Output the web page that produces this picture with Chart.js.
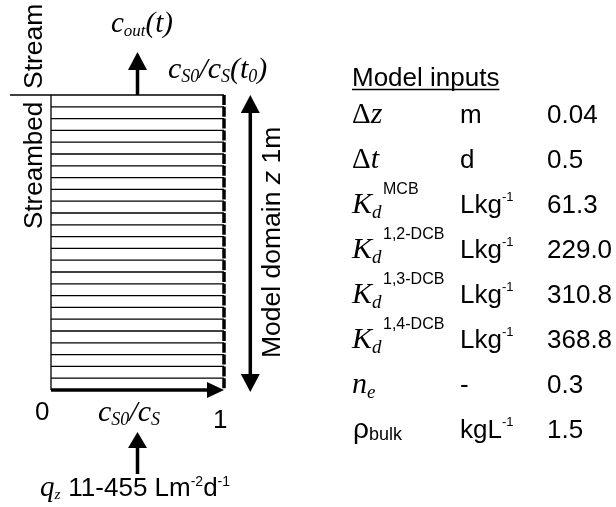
<!DOCTYPE html>
<html>
<head>
<meta charset="utf-8">
<script src="https://cdn.jsdelivr.net/npm/chart.js@4.4.1/dist/chart.umd.min.js"></script>
<style>
  html, body { margin: 0; padding: 0; background: #fff; }
  #wrap { width: 616px; height: 507px; position: relative; }
</style>
</head>
<body>
<div id="wrap"><canvas id="c"></canvas></div>
<script>
// layer boundaries of the model domain (depth z in m, dz = 0.04)
const layerDepths = [0.04, 0.08, 0.12, 0.16, 0.20, 0.24, 0.28, 0.32, 0.36, 0.40,
  0.44, 0.48, 0.52, 0.56, 0.60, 0.64, 0.68, 0.72, 0.76, 0.80, 0.84, 0.88, 0.92, 0.96];
// initial profile cS0/cS(t0) over depth
const initDepths = [0, 1];
const initRatio = [1, 1];

// model input table
const paramNames = ['Δ', 'Δ', 'K', 'K', 'K', 'K', 'n', 'ρ'];
const paramVars = ['z', 't', '', '', '', '', '', ''];
const paramSubs = ['', '', 'd', 'd', 'd', 'd', 'e', 'bulk'];
const paramSups = ['', '', 'MCB', '1,2-DCB', '1,3-DCB', '1,4-DCB', '', ''];
const paramUnits = ['m', 'd', 'Lkg', 'Lkg', 'Lkg', 'Lkg', '-', 'kgL'];
const paramUnitSups = ['', '', '-1', '-1', '-1', '-1', '', '-1'];
const paramValues = ['0.04', '0.5', '61.3', '229.0', '310.8', '368.8', '0.3', '1.5'];

const SANS = '"Liberation Sans", Arial, sans-serif';
const SERIF = '"Liberation Serif", "Times New Roman", serif';

function seg(ctx, x, y, parts) {
  // parts: [text, font, dy, extra gap]
  parts.forEach(p => {
    ctx.font = p[1];
    ctx.fillText(p[0], x, y + (p[2] || 0));
    x += ctx.measureText(p[0]).width + (p[3] || 0);
  });
  return x;
}

function arrowHead(ctx, x, y, dir, len, half) {
  ctx.beginPath();
  if (dir === 'up') { ctx.moveTo(x, y); ctx.lineTo(x - half, y + len); ctx.lineTo(x + half, y + len); }
  if (dir === 'down') { ctx.moveTo(x, y); ctx.lineTo(x - half, y - len); ctx.lineTo(x + half, y - len); }
  if (dir === 'right') { ctx.moveTo(x, y); ctx.lineTo(x - len, y - half); ctx.lineTo(x - len, y + half); }
  ctx.closePath();
  ctx.fill();
}

const diagramPlugin = {
  id: 'diagram',
  afterDatasetsDraw(chart) {
    const ctx = chart.ctx;
    const xs = chart.scales.x, ys = chart.scales.y;
    ctx.save();
    ctx.fillStyle = '#000';
    ctx.strokeStyle = '#000';
    ctx.textBaseline = 'alphabetic';
    ctx.textAlign = 'left';

    // arrows
    ctx.lineWidth = 3.5;
    const xm = xs.getPixelForValue(0.5);
    const top = ys.getPixelForValue(0), bot = ys.getPixelForValue(1);
    // outflow arrow
    ctx.beginPath(); ctx.moveTo(xm, top); ctx.lineTo(xm, 62); ctx.stroke();
    arrowHead(ctx, xm, 52, 'up', 18, 9.5);
    // inflow arrow
    ctx.beginPath(); ctx.moveTo(xm, 474); ctx.lineTo(xm, 442); ctx.stroke();
    arrowHead(ctx, xm, 432, 'up', 16, 9.5);
    // bottom axis arrow
    const x1 = xs.getPixelForValue(1);
    ctx.beginPath(); ctx.moveTo(xs.getPixelForValue(0), bot); ctx.lineTo(x1 - 10, bot); ctx.stroke();
    arrowHead(ctx, x1, bot, 'right', 17, 8);
    // model domain double arrow
    const xd = xs.getPixelForValue(1.152);
    ctx.beginPath(); ctx.moveTo(xd, top + 10); ctx.lineTo(xd, bot - 8); ctx.stroke();
    arrowHead(ctx, xd, top, 'up', 18, 9.5);
    arrowHead(ctx, xd, bot + 2, 'down', 18, 9.5);

    // labels
    const it = s => 'italic ' + s + 'px ' + SERIF;
    const rm = s => s + 'px ' + SERIF;
    const sn = s => s + 'px ' + SANS;
    seg(ctx, 111, 32, [['c', it(29)], ['out', it(17), 4], ['(t)', it(29)]]);
    seg(ctx, 168, 78, [['c', it(30)], ['S0', it(18), 4], ['/c', it(30)], ['S', it(18), 4], ['(t', it(30)], ['0', it(18), 4], [')', it(30)]]);
    seg(ctx, 98, 421, [['c', it(30)], ['S0', it(18), 4], ['/c', it(30)], ['S', it(18), 4]]);
    ctx.font = sn(26);
    ctx.fillText('0', 35, 420);
    ctx.fillText('1', 213, 428);
    seg(ctx, 40, 496, [['q', it(29)], ['z', it(15), 3, 8], ['11-455 Lm', sn(26)], ['-2', sn(14), -10, 0], ['d', sn(26)], ['-1', sn(14), -10]]);

    // rotated labels
    const rot = (x, y, fn) => { ctx.save(); ctx.translate(x, y); ctx.rotate(-Math.PI / 2); fn(); ctx.restore(); };
    rot(42, 89, () => { ctx.font = sn(26.5); ctx.fillText('Stream', 0, 0); });
    rot(42, 229, () => { ctx.font = sn(26); ctx.fillText('Streambed', 0, 0); });
    rot(280, 358, () => { seg(ctx, 0, 0, [['Model domain ', sn(26.5)], ['z', 'italic ' + sn(26.5)], [' 1m', sn(26.5)]]); });
    ctx.beginPath(); ctx.lineWidth = 1.3;
    ctx.moveTo(10, top); ctx.lineTo(xs.getPixelForValue(0), top); ctx.stroke();

    // model inputs table
    ctx.font = sn(26);
    ctx.fillText('Model inputs', 352, 86);
    const w = ctx.measureText('Model inputs').width;
    ctx.lineWidth = 1.3;
    ctx.beginPath(); ctx.moveTo(352, 89.5); ctx.lineTo(352 + w, 89.5); ctx.stroke();
    paramNames.forEach((n, i) => {
      const y = 123 + 45 * i;
      if (n === 'ρ') {
        seg(ctx, 353, y, [[n, sn(28)], [paramSubs[i], sn(18), 2]]);
      } else if (n === 'Δ') {
        seg(ctx, 352, y, [[n, rm(29)], [paramVars[i], it(30)]]);
      } else {
        seg(ctx, 352, y, [[n, it(30)], [paramSubs[i], it(19), 5]]);
      }
      if (paramSups[i]) seg(ctx, 383, y - 19, [[paramSups[i], sn(16)]]);
      seg(ctx, 460, y, [[paramUnits[i], sn(26)], [paramUnitSups[i], sn(13), -12]]);
      seg(ctx, 547, y, [[paramValues[i], sn(26)]]);
    });
    ctx.restore();
  }
};

const datasets = [];
layerDepths.forEach(z => {
  datasets.push({ data: [{ x: 0, y: z }, { x: 1, y: z }], borderColor: '#000', borderWidth: 1.3 });
});
// streambed top and left boundary
datasets.push({ data: [{ x: 0, y: 0 }, { x: 1, y: 0 }], borderColor: '#000', borderWidth: 1.3 });
datasets.push({ data: [{ x: 0, y: 0 }, { x: 0, y: 1 }], borderColor: '#000', borderWidth: 1.3 });
// initial profile
datasets.push({
  data: initDepths.map((z, i) => ({ x: initRatio[i], y: z })),
  borderColor: '#000', borderWidth: 3.5, borderDash: [10, 1.8]
});

new Chart(document.getElementById('c'), {
  type: 'scatter',
  data: { datasets: datasets.map(d => Object.assign({ showLine: true, pointRadius: 0, fill: false, clip: false, borderCapStyle: 'butt' }, d)) },
  options: {
    responsive: true,
    maintainAspectRatio: false,
    animation: false,
    layout: { padding: { left: 51, right: 392, top: 95, bottom: 117 } },
    plugins: { legend: { display: false }, tooltip: { enabled: false } },
    scales: {
      x: { type: 'linear', min: 0, max: 1, display: false },
      y: { type: 'linear', min: 0, max: 1, reverse: true, display: false }
    }
  },
  plugins: [diagramPlugin]
});
</script>
</body>
</html>
